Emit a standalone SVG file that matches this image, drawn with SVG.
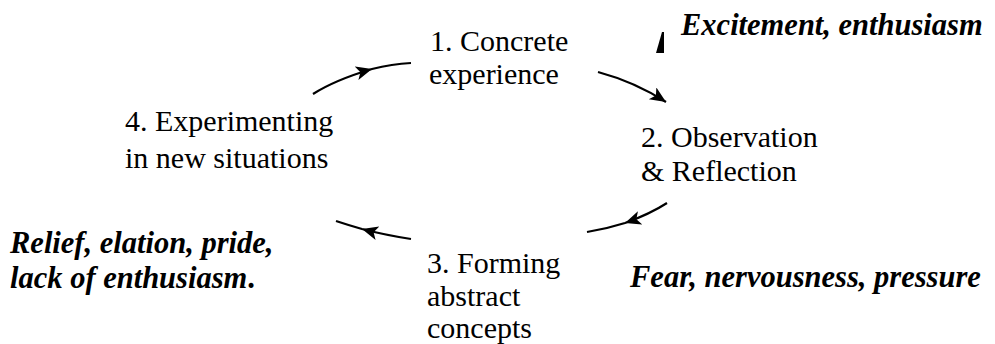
<svg xmlns="http://www.w3.org/2000/svg" width="995" height="344" viewBox="0 0 995 344">
<style>
.n{font-family:"Liberation Serif","Times New Roman",Times,serif;font-size:30px;fill:#000}
.e{font-family:"Liberation Serif","Times New Roman",Times,serif;font-size:30.5px;font-weight:bold;font-style:italic;fill:#000}
.c{fill:none;stroke:#000;stroke-width:2.2}
</style>
<defs>
<marker id="ah" markerUnits="userSpaceOnUse" markerWidth="20" markerHeight="16" refX="16" refY="7" orient="auto">
<path d="M0,0 L16,7 L0,14 L4,7 Z" fill="#000"/>
</marker>
</defs>
<rect width="995" height="344" fill="#fff"/>
<g id="connectors">
<path class="c" d="M313,94 Q335,80 372,69 Q392,64 411,63" marker-mid="url(#ah)"/>
<path class="c" d="M598,72 Q635,82 666,102" marker-end="url(#ah)"/>
<path class="c" d="M667,203 Q650,214 625,223 Q606,229 587,232" marker-mid="url(#ah)"/>
<path class="c" d="M411,239 Q385,235 362,229 Q348,225 336,221" marker-mid="url(#ah)"/>
<polygon points="662,32 664,32 664,53 656,53" fill="#000"/>
</g>
<g id="node1"><text class="n" x="430" y="51">1. Concrete</text><text class="n" x="429" y="84">experience</text></g>
<g id="node2"><text class="n" x="641" y="147">2. Observation</text><text class="n" x="641" y="181">&amp; Reflection</text></g>
<g id="node3"><text class="n" x="427" y="273">3. Forming</text><text class="n" x="427" y="306">abstract</text><text class="n" x="427" y="338">concepts</text></g>
<g id="node4"><text class="n" x="125" y="131">4. Experimenting</text><text class="n" x="125" y="168">in new situations</text></g>
<g id="emotion1"><text class="e" x="681" y="35">Excitement, enthusiasm</text></g>
<g id="emotion2"><text class="e" x="630" y="287">Fear, nervousness, pressure</text></g>
<g id="emotion3"><text class="e" x="10" y="253">Relief, elation, pride,</text><text class="e" x="10" y="288">lack of enthusiasm<tspan font-style="normal">.</tspan></text></g>
</svg>
